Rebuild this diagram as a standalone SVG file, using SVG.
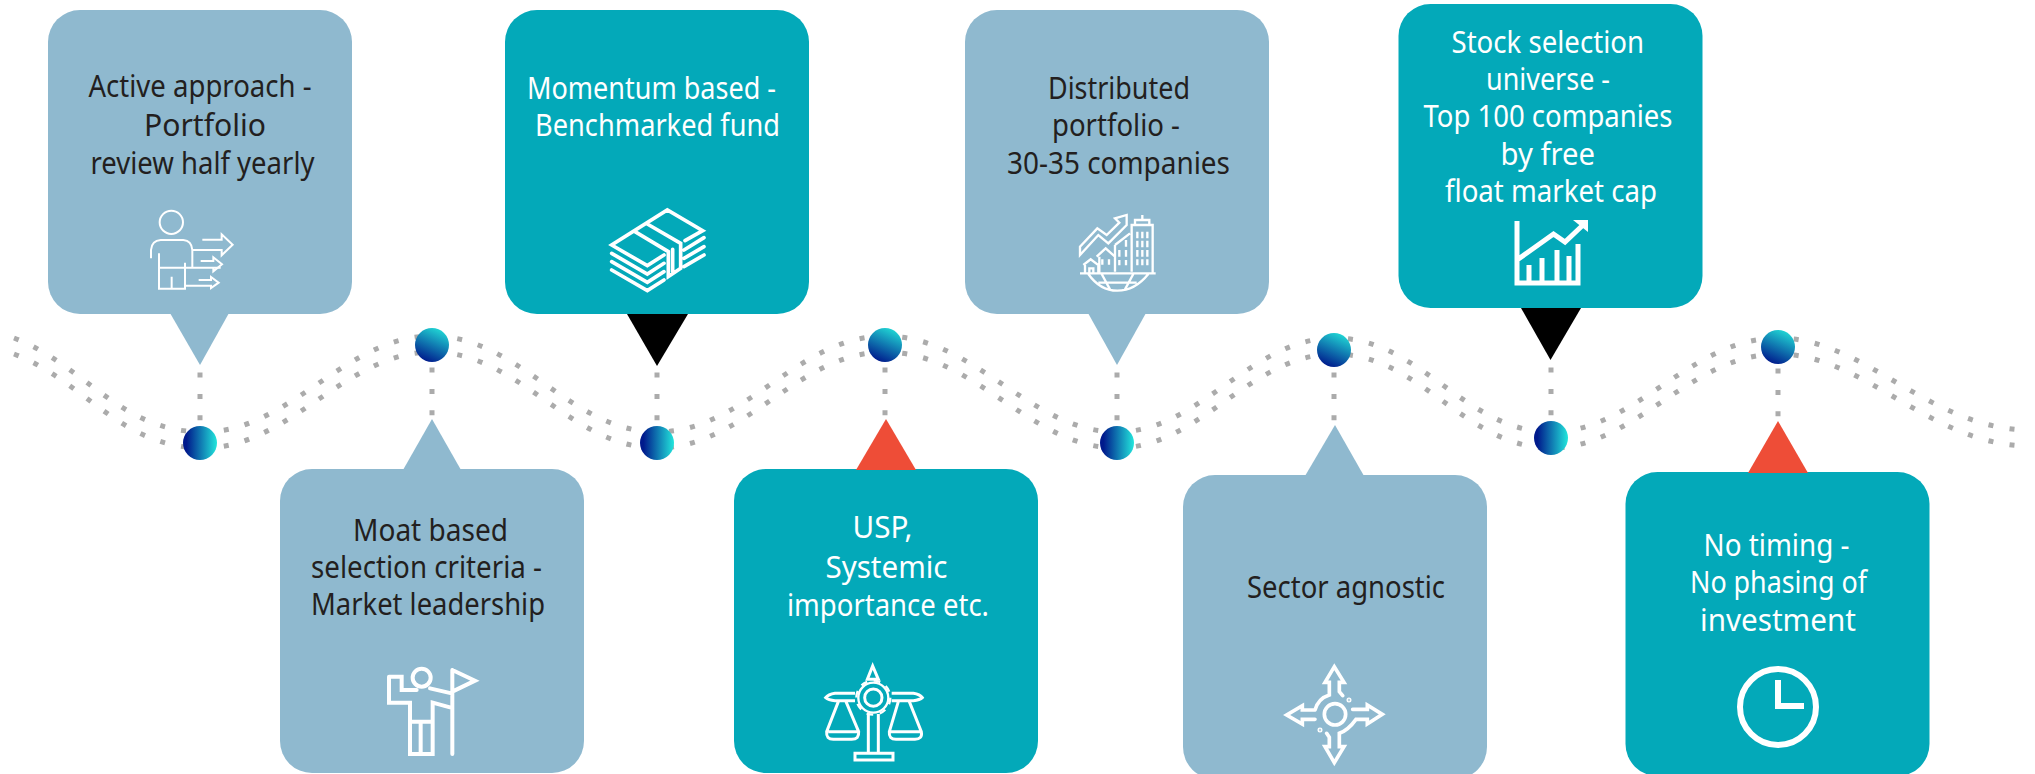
<svg xmlns="http://www.w3.org/2000/svg" xmlns:xlink="http://www.w3.org/1999/xlink" width="2035" height="774" viewBox="0 0 2035 774">
<style>
.lb{fill:#8fb9cf}.tl{fill:#03a9b9}
.t{font-family:"Noto Sans","Open Sans",sans-serif;font-size:30px}
.dk{fill:#231f20}.wh{fill:#fff}
.ic{fill:none;stroke:#fff;stroke-linejoin:miter}
.dot{fill:none;stroke:#ababab;stroke-width:5;stroke-dasharray:5 16.4}
</style>
<defs>
<linearGradient id="gh" x1="0" y1="0" x2="1" y2="0"><stop offset="0.1" stop-color="#001a8c"/><stop offset="1" stop-color="#22e6dc"/></linearGradient>
<linearGradient id="gd" x1="0.35" y1="1" x2="0.8" y2="0"><stop offset="0" stop-color="#001a8c"/><stop offset="1" stop-color="#22e0d8"/></linearGradient>
<path id="wave" d="M14 338C85 365 120 432 203 432C290 432 345 336 432 336C520 336 570 432 657 432C745 432 797 336 885 336C975 336 1030 432 1117 432C1200 432 1250 338 1335 338C1420 338 1465 432 1551 432C1635 432 1690 338 1778 338C1865 338 1930 430 2030 430"/>
</defs>
<g id="connectors">
<use xlink:href="#wave" href="#wave" class="dot"/>
<use xlink:href="#wave" href="#wave" class="dot" y="16"/>
<path class="dot" d="M200 372.5V425M432 367.5V419M657 372.5V425M885 367.5V419M1117 372.5V425M1334 372.5V425M1551 367.5V420M1778 368.5V421"/>
</g>
<g id="joints">
<circle cx="200" cy="443" r="17" fill="url(#gh)"/>
<circle cx="432" cy="345" r="17" fill="url(#gd)"/>
<circle cx="657" cy="443" r="17" fill="url(#gh)"/>
<circle cx="885" cy="345" r="17" fill="url(#gd)"/>
<circle cx="1117" cy="443" r="17" fill="url(#gh)"/>
<circle cx="1334" cy="350" r="17" fill="url(#gd)"/>
<circle cx="1551" cy="438" r="17" fill="url(#gh)"/>
<circle cx="1778" cy="347" r="17" fill="url(#gd)"/>
</g>
<g id="node1">
<rect class="lb" x="48" y="10" width="304" height="304" rx="32"/>
<polygon class="lb" points="170,313 229,313 200,365"/>
<text class="t dk" x="88.5" y="97" textLength="223" lengthAdjust="spacingAndGlyphs">Active approach -</text>
<text class="t dk" x="144" y="136" textLength="122" lengthAdjust="spacingAndGlyphs">Portfolio</text>
<text class="t dk" x="90.5" y="174" textLength="224" lengthAdjust="spacingAndGlyphs">review half yearly</text>
<g class="ic" transform="translate(130 200) scale(.3333)" stroke-width="6">
<circle cx="124" cy="67" r="35"/>
<path d="M63 175V150Q65 122 92 120H160Q185 122 187 150V203M87 160V266H165V188M87 203H272M125 230V266"/>
<path d="M217 119H275V103L308 134L275 166V150H187M212 183H250V172L276 193L250 214V203M206 240H243V231L266 248L243 264V257H165"/>
</g>
</g>
<g id="node2">
<rect class="lb" x="280" y="469" width="304" height="304" rx="32"/>
<polygon class="lb" points="403,470 461,470 432,419"/>
<text class="t dk" x="353" y="541" textLength="155" lengthAdjust="spacingAndGlyphs">Moat based</text>
<text class="t dk" x="311" y="578" textLength="231" lengthAdjust="spacingAndGlyphs">selection criteria -</text>
<text class="t dk" x="311" y="615" textLength="234" lengthAdjust="spacingAndGlyphs">Market leadership</text>
<g class="ic" transform="translate(370 650) scale(.3333)" stroke-width="12" stroke-linejoin="round" stroke-linecap="round">
<circle cx="155" cy="83" r="27"/>
<path d="M180 115L245 130M57 80V158H120V312H188V158L240 172M57 80H95V120H140M120 215H188M152 215V312M247 60V312M247 60L315 92L247 125"/>
</g>
</g>
<g id="node3">
<rect class="tl" x="505" y="10" width="304" height="304" rx="32"/>
<polygon fill="#000" points="627,314 688,314 657,366"/>
<text class="t wh" x="527" y="99" textLength="249" lengthAdjust="spacingAndGlyphs">Momentum based -</text>
<text class="t wh" x="535" y="136" textLength="245" lengthAdjust="spacingAndGlyphs">Benchmarked fund</text>
<g class="ic" transform="translate(590 200) scale(.3333)" stroke-width="11" stroke-linecap="round" stroke-linejoin="round">
<path d="M222 165L172 197L65 135L232 30L338 92L285 122M172 72L272 130V205L235 230V155L135 95M248 148V215M65 160L172 222L222 190M65 185L172 247L222 215M65 210L172 272L222 240M282 150L342 113M282 175L342 140M282 200L342 165"/>
</g>
</g>
<g id="node4">
<rect class="tl" x="734" y="469" width="304" height="304" rx="32"/>
<polygon fill="#ee4d37" points="856,470 916,470 886,419"/>
<text class="t wh" x="852.5" y="538" textLength="60" lengthAdjust="spacingAndGlyphs">USP,</text>
<text class="t wh" x="825.5" y="578" textLength="122" lengthAdjust="spacingAndGlyphs">Systemic</text>
<text class="t wh" x="787" y="616" textLength="202" lengthAdjust="spacingAndGlyphs">importance etc.</text>
<g class="ic" transform="translate(810 650) scale(.3333)" stroke-width="9" stroke-linejoin="round">
<circle cx="190" cy="143" r="26"/>
<circle cx="190" cy="143" r="45" stroke-width="7"/>
<circle cx="190" cy="143" r="51" stroke-width="7" stroke-dasharray="20 20"/>
<path d="M172 88L188 48L205 88ZM135 130H75Q55 133 47 143Q55 150 75 152H135M245 130H310Q330 133 337 143Q330 150 310 152H245M85 155L50 245Q48 268 70 268H125Q148 268 146 245L108 155M55 245H142M265 155L238 245Q236 268 258 268H315Q338 268 334 245L298 155M240 245H332M175 192V308M205 192V308M135 310H249V330H135Z"/>
</g>
</g>
<g id="node5">
<rect class="lb" x="965" y="10" width="304" height="304" rx="32"/>
<polygon class="lb" points="1088,313 1146,313 1117,365"/>
<text class="t dk" x="1048" y="99" textLength="142" lengthAdjust="spacingAndGlyphs">Distributed</text>
<text class="t dk" x="1052" y="136" textLength="128" lengthAdjust="spacingAndGlyphs">portfolio -</text>
<text class="t dk" x="1007" y="174" textLength="223" lengthAdjust="spacingAndGlyphs">30-35 companies</text>
<g class="ic" transform="translate(1060 200) scale(.3333)" stroke-width="7">
<path d="M60 220H287M85 222Q120 272 172 272Q225 272 265 222M125 222L150 268M220 222L195 268M115 248H230"/>
<path d="M70 195L92 178L115 195V220M75 195V220M88 220V205H100V220M110 170L137 145L165 170V215M118 170V220M165 135L210 100M165 215V135M215 215V75H278V220M225 75V60H268V75M247 45V60"/>
<path d="M60 140V165L115 105L145 130L200 75V45L165 55L178 68L140 105L112 85Z"/>
<path d="M127 178V194M147 178V194M178 150V170M198 120V140M198 150V170M178 180V196M198 180V196M232 95V115M247 95V115M262 95V115M232 122V142M247 122V142M262 122V142M232 150V170M247 150V170M262 150V170M232 178V196M247 178V196M262 178V196"/>
</g>
</g>
<g id="node6">
<rect class="tl" x="1398.5" y="4" width="304" height="304" rx="32"/>
<polygon fill="#000" points="1521,308 1581,308 1550.5,360"/>
<text class="t wh" x="1451.5" y="53" textLength="192.5" lengthAdjust="spacingAndGlyphs">Stock selection</text>
<text class="t wh" x="1486" y="90" textLength="124" lengthAdjust="spacingAndGlyphs">universe -</text>
<text class="t wh" x="1423.5" y="127" textLength="249" lengthAdjust="spacingAndGlyphs">Top 100 companies</text>
<text class="t wh" x="1500.5" y="165" textLength="94.5" lengthAdjust="spacingAndGlyphs">by free</text>
<text class="t wh" x="1445" y="202" textLength="212" lengthAdjust="spacingAndGlyphs">float market cap</text>
<g class="ic" stroke-width="5">
<path d="M1517 221V283H1578V244M1529 283V265M1542 283V258M1557 283V250M1569 283V256M1517 260L1553.5 234L1565 242L1583 225"/>
<polygon points="1588,220 1573,220 1588,232" fill="#fff" stroke="none"/>
</g>
</g>
<g id="node7">
<rect class="lb" x="1183" y="475" width="304" height="304" rx="32"/>
<polygon class="lb" points="1305,476 1364,476 1335,425"/>
<text class="t dk" x="1247" y="598" textLength="198" lengthAdjust="spacingAndGlyphs">Sector agnostic</text>
<g class="ic" transform="translate(1270 650) scale(.3333)" stroke-width="11" stroke-linejoin="round" stroke-linecap="round">
<circle cx="195" cy="193" r="32"/>
<path d="M135 180H97V167L50 195L97 222V208H135M135 180Q145 145 178 135V97H165L193 50L222 97H208V125L218 137M248 178H292V165L337 193L292 222V208H258Q235 240 208 250V290H222L193 338L165 290H178V262L170 250"/>
<circle cx="237" cy="150" r="2" fill="#fff"/>
<circle cx="150" cy="240" r="2" fill="#fff"/>
</g>
</g>
<g id="node8">
<rect class="tl" x="1625.5" y="472" width="304" height="304" rx="32"/>
<polygon fill="#ee4d37" points="1748,473 1808,473 1778,421"/>
<text class="t wh" x="1703.5" y="556" textLength="146" lengthAdjust="spacingAndGlyphs">No timing -</text>
<text class="t wh" x="1690" y="593" textLength="177" lengthAdjust="spacingAndGlyphs">No phasing of</text>
<text class="t wh" x="1700" y="631" textLength="156" lengthAdjust="spacingAndGlyphs">investment</text>
<g class="ic" stroke-width="6">
<circle cx="1778" cy="707" r="38"/>
<path d="M1778 680V706H1804"/>
</g>
</g>
</svg>
